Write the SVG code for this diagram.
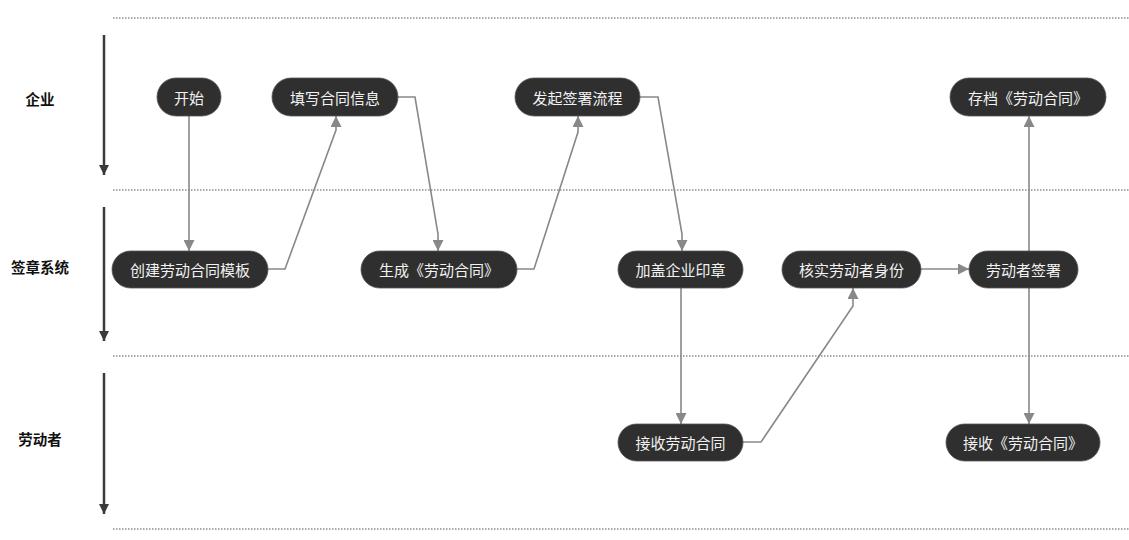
<svg xmlns="http://www.w3.org/2000/svg" width="1129" height="540" viewBox="0 0 1129 540">
<style>
.sep{stroke:#555;stroke-width:1.2;stroke-dasharray:1.5 1.5;fill:none}
.lane{stroke:#3a3a3a;stroke-width:2.5;fill:none}
.lbl{font-family:"Noto Sans CJK SC","Liberation Sans",sans-serif;font-size:14.5px;font-weight:bold;fill:#111;text-anchor:middle;dominant-baseline:central}
.node rect{fill:#2f2f2f;stroke:#555;stroke-width:0.8}
.node text{font-family:"Noto Sans CJK SC","Liberation Sans",sans-serif;font-size:15px;fill:#f2f2f2;text-anchor:middle;dominant-baseline:central}
.edge{stroke:#888;stroke-width:1.6;fill:none}
</style>
<defs>
<marker id="ah" viewBox="0 0 10 10" refX="10" refY="5" markerWidth="11" markerHeight="11" markerUnits="userSpaceOnUse" orient="auto">
<path d="M0,0 L10,5 L0,10 z" fill="#888"/>
</marker>
<marker id="la" viewBox="0 0 10 10" refX="10" refY="5" markerWidth="10" markerHeight="11" markerUnits="userSpaceOnUse" orient="auto">
<path d="M0,0 L10,5 L0,10 z" fill="#3a3a3a"/>
</marker>
</defs>
<rect width="1129" height="540" fill="#fff"/>
<g id="separators">
<line class="sep" x1="113" y1="18" x2="1129" y2="18"/>
<line class="sep" x1="113" y1="190" x2="1129" y2="190"/>
<line class="sep" x1="113" y1="356" x2="1129" y2="356"/>
<line class="sep" x1="113" y1="529" x2="1129" y2="529"/>
</g>
<g id="lanes">
<line class="lane" x1="104" y1="35" x2="104" y2="175" marker-end="url(#la)"/>
<line class="lane" x1="104" y1="207" x2="104" y2="341" marker-end="url(#la)"/>
<line class="lane" x1="104" y1="373" x2="104" y2="514" marker-end="url(#la)"/>
<text class="lbl" x="40" y="98">企业</text>
<text class="lbl" x="40" y="266">签章系统</text>
<text class="lbl" x="40" y="438">劳动者</text>
</g>
<g id="connectors">
<path class="edge" d="M189,116 L189,251" marker-end="url(#ah)"/>
<path class="edge" d="M268,269 L285,269 L336,130 L336,116" marker-end="url(#ah)"/>
<path class="edge" d="M398,97 L415,97 L438,234 L438,251" marker-end="url(#ah)"/>
<path class="edge" d="M517,269 L534,269 L578,132 L578,116" marker-end="url(#ah)"/>
<path class="edge" d="M640,97 L658,97 L682,234 L682,251" marker-end="url(#ah)"/>
<path class="edge" d="M681,288 L681,424" marker-end="url(#ah)"/>
<path class="edge" d="M743,442 L761,442 L853,306 L853,288" marker-end="url(#ah)"/>
<path class="edge" d="M921,269 L969,269" marker-end="url(#ah)"/>
<path class="edge" d="M1029,251 L1029,116" marker-end="url(#ah)"/>
<path class="edge" d="M1029,288 L1029,424" marker-end="url(#ah)"/>
</g>
<g id="n-start" class="node"><rect x="157" y="78" width="64" height="38" rx="19"/><text x="189" y="97">开始</text></g>
<g id="n-fill" class="node"><rect x="272" y="78" width="126" height="38" rx="19"/><text x="335" y="97">填写合同信息</text></g>
<g id="n-initiate" class="node"><rect x="515" y="78" width="125" height="38" rx="19"/><text x="577.5" y="97">发起签署流程</text></g>
<g id="n-archive" class="node"><rect x="950" y="78" width="156" height="38" rx="19"/><text x="1028" y="97">存档《劳动合同》</text></g>
<g id="n-template" class="node"><rect x="112" y="251" width="156" height="37" rx="18.5"/><text x="190" y="269.5">创建劳动合同模板</text></g>
<g id="n-generate" class="node"><rect x="361" y="251" width="156" height="37" rx="18.5"/><text x="439" y="269.5">生成《劳动合同》</text></g>
<g id="n-seal" class="node"><rect x="618" y="251" width="125" height="37" rx="18.5"/><text x="680.5" y="269.5">加盖企业印章</text></g>
<g id="n-verify" class="node"><rect x="782" y="251" width="139" height="37" rx="18.5"/><text x="851.5" y="269.5">核实劳动者身份</text></g>
<g id="n-sign" class="node"><rect x="969" y="251" width="109" height="37" rx="18.5"/><text x="1023.5" y="269.5">劳动者签署</text></g>
<g id="n-receive1" class="node"><rect x="618" y="424" width="125" height="37" rx="18.5"/><text x="680.5" y="442.5">接收劳动合同</text></g>
<g id="n-receive2" class="node"><rect x="946" y="424" width="154" height="37" rx="18.5"/><text x="1023" y="442.5">接收《劳动合同》</text></g>
</svg>
